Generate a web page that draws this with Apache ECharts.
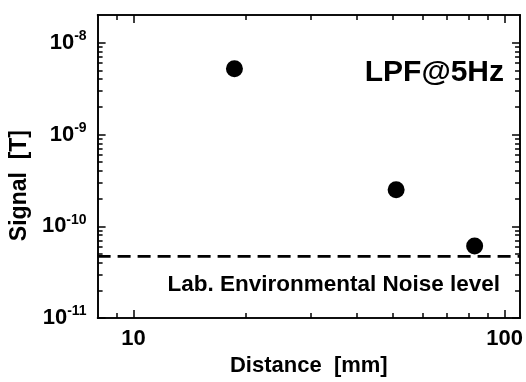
<!DOCTYPE html>
<html>
<head>
<meta charset="utf-8">
<script src="https://cdn.jsdelivr.net/npm/echarts@6/dist/echarts.min.js"></script>
<style>
  html, body { margin: 0; padding: 0; background: #fff; }
  #chart { width: 526px; height: 382px; }
</style>
</head>
<body>
<div id="chart"></div>
<script>
// 距离 / 信号 数据
const distance = [18.7, 51, 83];
const signal = [5.2e-9, 2.5e-10, 6.1e-11];
const noiseLevel = 4.7e-11;

const xRange = [8, 110];
const yRange = [1e-11, 2e-8];
const xMajor = [10, 100];
const xMinor = [9, 20, 30, 40, 50, 60, 70, 80, 90];
const yMajor = [1e-11, 1e-10, 1e-9, 1e-8];
const yMinor = [];
[1e-11, 1e-10, 1e-9].forEach(d => {
  for (let k = 2; k <= 9; k++) yMinor.push(k * d);
});

const font = '"Liberation Sans", Arial, Helvetica, sans-serif';
const black = '#000';

const myChart = echarts.init(document.getElementById('chart'));

// 对数轴 (刻度朝内)
function logAxis(pos, range, ticks, len, opts) {
  return Object.assign({
    type: 'log',
    logBase: 10,
    position: pos,
    min: range[0],
    max: range[1],
    axisLine: { show: true, onZero: false, lineStyle: { color: black, width: 1.6 } },
    axisTick: { show: true, inside: true, length: len, customValues: ticks, lineStyle: { color: black, width: 1.5 } },
    axisLabel: { show: false },
    splitLine: { show: false }
  }, opts || {});
}

const option = {
  backgroundColor: '#fff',
  animation: false,
  grid: { left: 97, right: 5, top: 15, bottom: 56, containLabel: false },
  xAxis: [
    logAxis('bottom', xRange, xMajor, 8, {
      name: 'Distance  [mm]',
      nameLocation: 'middle',
      nameGap: 30,
      nameTextStyle: { fontFamily: font, fontWeight: 'bold', fontSize: 22, color: black },
      axisLabel: {
        show: true,
        customValues: xMajor,
        margin: 10,
        fontFamily: font,
        fontWeight: 'bold',
        fontSize: 22,
        color: black,
        formatter: v => String(Math.round(v))
      }
    }),
    logAxis('bottom', xRange, xMinor, 5),
    logAxis('top', xRange, xMajor, 8),
    logAxis('top', xRange, xMinor, 5)
  ],
  yAxis: [
    logAxis('left', yRange, yMajor, 8, {
      name: 'Signal  [T]',
      nameLocation: 'middle',
      nameGap: 66,
      nameRotate: 90,
      nameTextStyle: { fontFamily: font, fontWeight: 'bold', fontSize: 23, color: black, padding: [0, 38, 0, 0] },
      axisLabel: {
        show: true,
        customValues: yMajor,
        margin: 11,
        formatter: v => '{b|10}{s|' + Math.round(Math.log10(v)) + '}',
        rich: {
          b: { fontFamily: font, fontWeight: 'bold', fontSize: 22, color: black, lineHeight: 27 },
          s: { fontFamily: font, fontWeight: 'bold', fontSize: 14, color: black, lineHeight: 15, verticalAlign: 'top' }
        }
      }
    }),
    logAxis('left', yRange, yMinor, 5),
    logAxis('right', yRange, yMajor, 8),
    logAxis('right', yRange, yMinor, 5)
  ],
  series: [
    {
      name: 'Signal',
      type: 'scatter',
      xAxisIndex: 0,
      yAxisIndex: 0,
      symbol: 'circle',
      symbolSize: 17,
      itemStyle: { color: black, opacity: 1 },
      data: distance.map((d, i) => [d, signal[i]])
    },
    {
      name: 'Noise',
      type: 'line',
      xAxisIndex: 0,
      yAxisIndex: 0,
      showSymbol: false,
      symbol: 'none',
      lineStyle: { color: black, width: 2.6, type: [13, 7] },
      data: [[xRange[0], noiseLevel], [xRange[1], noiseLevel]]
    }
  ],
  graphic: [
    {
      type: 'text',
      right: 22,
      top: 58,
      style: { text: 'LPF@5Hz', fontFamily: font, fontWeight: 'bold', fontSize: 30, fill: black }
    },
    {
      type: 'text',
      right: 26,
      top: 273,
      style: { text: 'Lab. Environmental Noise level', fontFamily: font, fontWeight: 'bold', fontSize: 22.5, fill: black }
    }
  ]
};

myChart.setOption(option);
</script>
</body>
</html>
